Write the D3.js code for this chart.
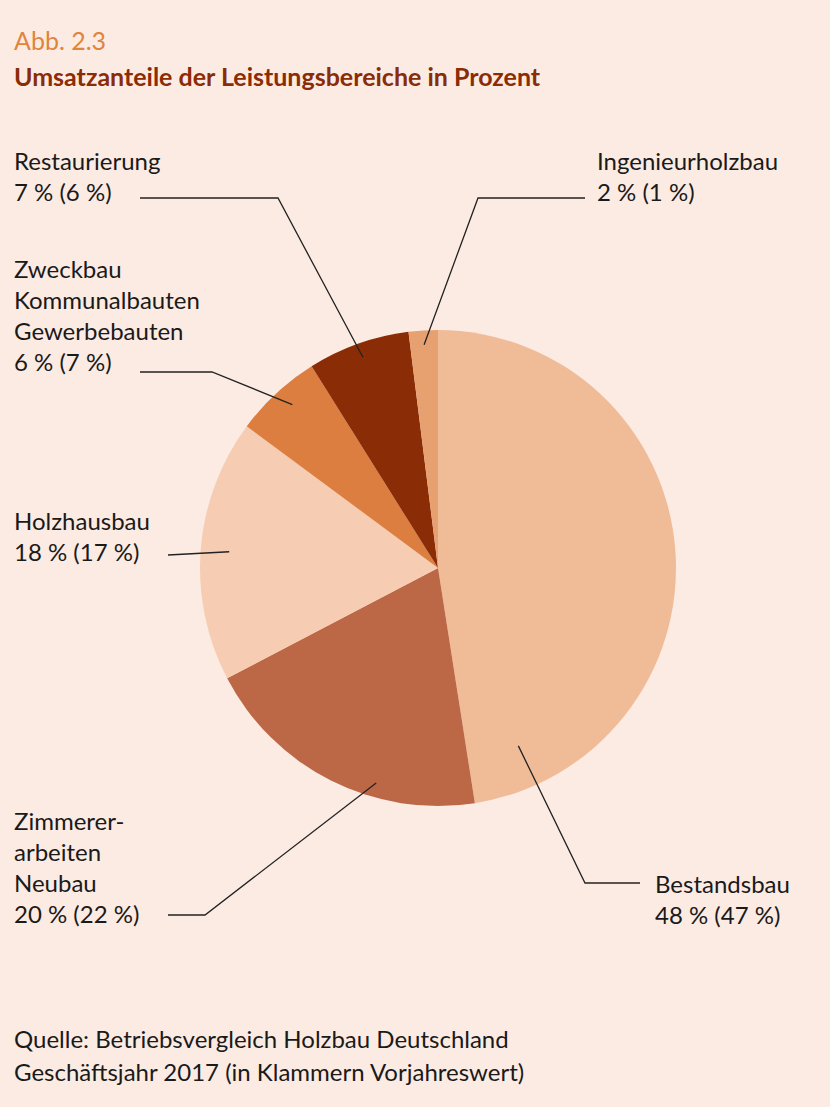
<!DOCTYPE html><html><head><meta charset="utf-8">
<script src="https://cdn.jsdelivr.net/npm/d3@7/dist/d3.min.js"></script>
<style>body{margin:0;background:#fcebe3}svg{display:block}text{font-family:Lato,"Open Sans",sans-serif}</style>
</head><body><svg id="c" width="830" height="1107"></svg>
<script>
const categories=["Bestandsbau","Zimmererarbeiten Neubau","Holzhausbau","Zweckbau Kommunalbauten Gewerbebauten","Restaurierung","Ingenieurholzbau"];
const values=[48,20,18,6,7,2];
const previous=[47,22,17,7,6,1];
const colors=["#f0bc98","#bc6846","#f6cdb2","#dc7e40","#8a2c05","#e7a070"];
const labelLines=[["Bestandsbau"],["Zimmerer-","arbeiten","Neubau"],["Holzhausbau"],["Zweckbau","Kommunalbauten","Gewerbebauten"],["Restaurierung"],["Ingenieurholzbau"]];
// layout: label position, anchor, leader path points
const layout=[
 {x:655,y:893,anchor:"start",elbow:[[640,883],[585,883]],t:0.91,rf:0.82},
 {x:14,y:830,anchor:"start",elbow:[[168,915],[205,915]],t:0.35,rf:0.94},
 {x:14,y:530,anchor:"start",elbow:[[168,555]],t:0.5,rf:0.88},
 {x:14,y:278,anchor:"start",elbow:[[140,372],[212,372]],t:0.55,rf:0.92},
 {x:14,y:170,anchor:"start",elbow:[[140,198],[278,198]],t:0.5,rf:0.94},
 {x:597,y:170,anchor:"start",elbow:[[585,198],[478,198]],t:0.5,rf:0.94}
];
const svg=d3.select("#c");
svg.append("rect").attr("width",830).attr("height",1107).attr("fill","#fcebe3");
svg.append("text").attr("x",14).attr("y",50).attr("font-size",25).attr("fill","#e0843e").text("Abb. 2.3");
svg.append("text").attr("x",14).attr("y",86).attr("font-size",25).attr("font-weight","bold").attr("fill","#8a2c05").text("Umsatzanteile der Leistungsbereiche in Prozent");
const cx=438,cy=568,R=238;
const pie=d3.pie().sort(null).value(d=>d)(values);
const arc=d3.arc().innerRadius(0).outerRadius(R);
const g=svg.append("g").attr("transform",`translate(${cx},${cy})`);
g.selectAll("path").data(pie).join("path").attr("d",arc).attr("fill",(d,i)=>colors[i]);
pie.forEach((d,i)=>{
 const L=layout[i];
 const a=d.startAngle+(d.endAngle-d.startAngle)*L.t, r=R*L.rf;
 const p=[cx+r*Math.sin(a),cy-r*Math.cos(a)];
 svg.append("path").attr("d",d3.line()([...L.elbow,p])).attr("fill","none").attr("stroke","#222").attr("stroke-width",1.3);
 const t=svg.append("text").attr("x",L.x).attr("y",L.y).attr("font-size",24).attr("fill","#1a1a1a");
 const lines=[...labelLines[i],`${values[i]} % (${previous[i]} %)`];
 lines.forEach((s,k)=>t.append("tspan").attr("x",L.x).attr("dy",k?31:0).text(s));
});
const src=svg.append("text").attr("x",14).attr("y",1048).attr("font-size",24).attr("fill","#1a1a1a");
src.append("tspan").attr("x",14).text("Quelle: Betriebsvergleich Holzbau Deutschland");
src.append("tspan").attr("x",14).attr("dy",33).text("Geschäftsjahr 2017 (in Klammern Vorjahreswert)");
</script></body></html>
